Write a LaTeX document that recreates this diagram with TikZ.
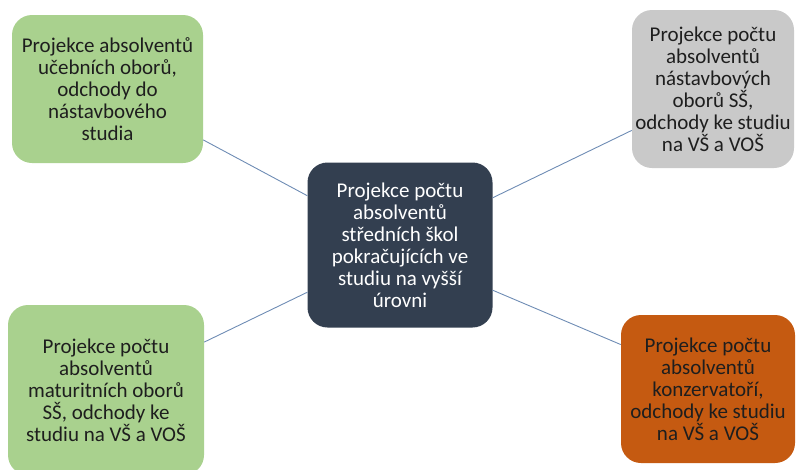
\documentclass[tikz,border=0pt]{standalone}
\usepackage{fontspec}
\setmainfont{Carlito}
\usepackage{xcolor}
\usepackage{tikz}
\usetikzlibrary{positioning}

\definecolor{boxgreen}{HTML}{A9D18E}
\definecolor{boxgray}{HTML}{C9C9C9}
\definecolor{boxnavy}{HTML}{333F50}
\definecolor{boxorange}{HTML}{C55A11}
\definecolor{linkblue}{HTML}{6E8CB4}
\definecolor{textdark}{HTML}{1E1E1E}

\begin{document}
\begin{tikzpicture}[x=1pt, y=-1pt,
        base/.style={rectangle, rounded corners=20pt, inner sep=0pt, align=center, font=\fontsize{21}{22}\selectfont, text=textdark},
        study/.style={base, fill=boxgreen},
        upper/.style={base, fill=boxgray},
        hub/.style={base, fill=boxnavy, text=white},
        music/.style={base, fill=boxorange},
        link/.style={draw=linkblue, line width=0.9pt}
    ]
    \useasboundingbox (0,0) rectangle (797,469);

    % Left Column
    \node[study, minimum width=191pt, minimum height=148pt] (ucebni) at (107.5, 89) {Projekce absolventů\\ učebních oborů,\\ odchody do\\ nástavbového\\ studia};
    \node[study, minimum width=196pt, minimum height=170pt] (maturitni) at (106, 390) {Projekce počtu\\ absolventů\\ maturitních oborů\\ SŠ, odchody ke\\ studiu na VŠ a VOŠ};

    % Right Column
    \node[upper, minimum width=162pt, minimum height=158pt] (nastavbove) at (713, 89) {Projekce počtu\\ absolventů\\ nástavbových\\ oborů SŠ,\\ odchody ke studiu\\ na VŠ a VOŠ};
    \node[music, minimum width=174pt, minimum height=148pt] (konzervatore) at (708, 389) {Projekce počtu\\ absolventů\\ konzervatoří,\\ odchody ke studiu\\ na VŠ a VOŠ};

    % Center Node
    \node[hub, minimum width=185pt, minimum height=165pt] (projekce) at (400, 245) {Projekce počtu\\ absolventů\\ středních škol\\ pokračujících ve\\ studiu na vyšší\\ úrovni};

    % Links
    \draw[link] (ucebni.-28) -- (projekce.152);
    \draw[link] (projekce.27) -- (nastavbove.-153);
    \draw[link] (projekce.207) -- (maturitni.26);
    \draw[link] (projekce.-26) -- (konzervatore.153);
\end{tikzpicture}
\end{document}
